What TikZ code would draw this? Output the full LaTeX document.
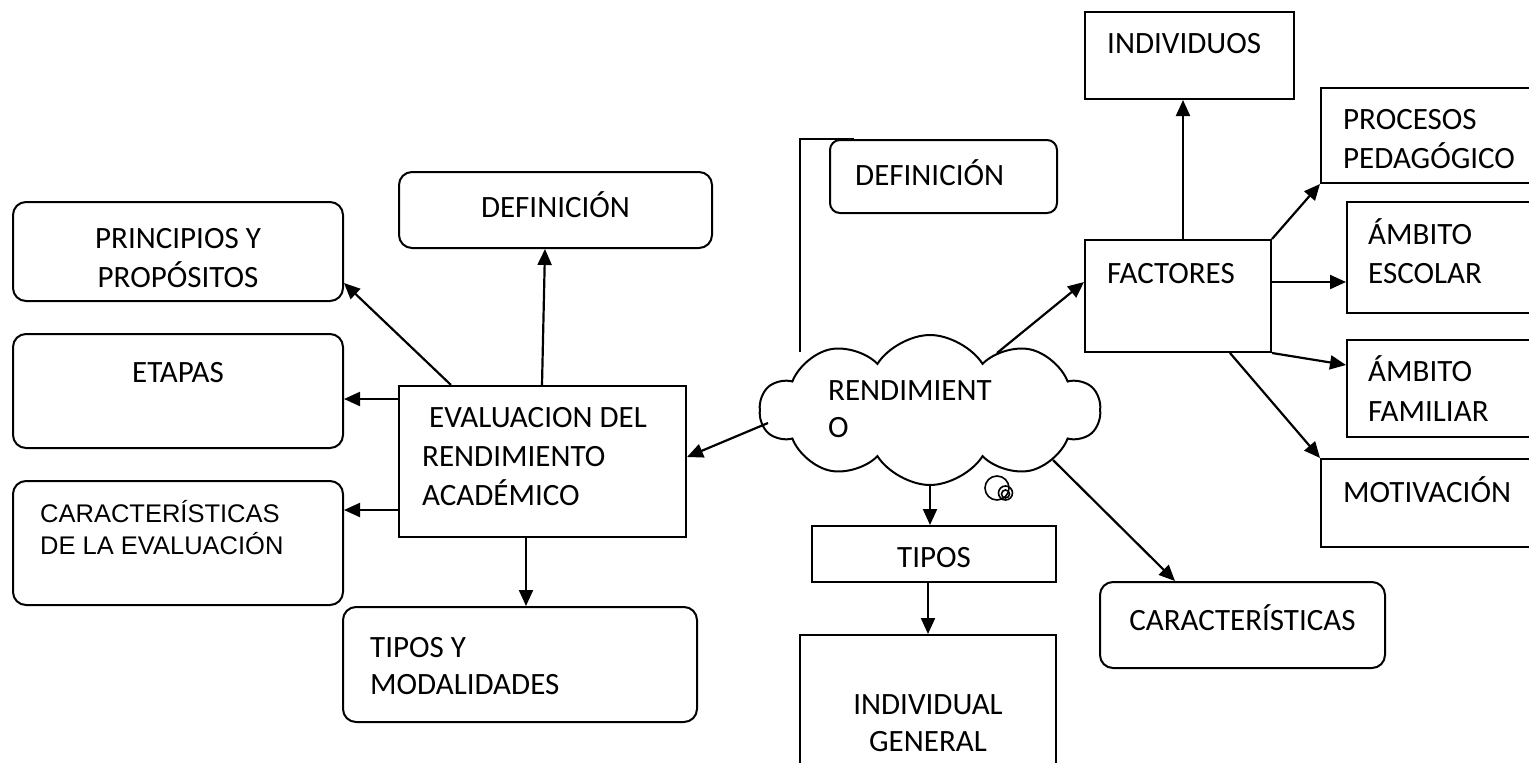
\documentclass[tikz,border=0pt]{standalone}
\usepackage{fontspec}
\setmainfont{Carlito}
\newfontfamily\arialletra{Liberation Sans}
\usetikzlibrary{arrows.meta,shapes.symbols}
\tikzset{>={Triangle[length=16pt,width=14pt]},
	flecha/.style={->, line width=2.2pt}}
\tikzstyle{caja}=[draw, line width=2pt, rectangle, inner sep=0pt]
\tikzstyle{cajaredonda}=[caja, rounded corners=13pt]
\tikzstyle{texto}=[inner sep=0pt, font=\fontsize{31}{38.5}\selectfont]

\begin{document}
\begin{tikzpicture}[x=1pt, y=-1pt]
	\clip (0,0) rectangle (1529,763);
	% lado izquierdo
	\node[cajaredonda, minimum width=330pt, minimum height=99pt] (princ) at (178,251.5) {};
	\node[cajaredonda, minimum width=330pt, minimum height=114pt] (etapas) at (178,391) {};
	\node[cajaredonda, minimum width=330pt, minimum height=124pt] (caract1) at (178,543) {};
	\node[cajaredonda, minimum width=313pt, minimum height=76pt] (def1) at (555.5,210) {};
	\node[caja, minimum width=287pt, minimum height=151pt] (eval) at (542.5,461.5) {};
	\node[cajaredonda, minimum width=354pt, minimum height=115pt] (tiposmod) at (520,664.5) {};
	\node[texto, anchor=base, align=center] (t-princ) at (178,287) {PRINCIPIOS Y\\PROPÓSITOS};
	\node[texto, anchor=base] (t-etapas) at (178,382) {ETAPAS};
	\node[texto, anchor=base west, align=left, font=\arialletra\fontsize{25.5}{32}\selectfont] (t-caract1) at (40,554) {CARACTERÍSTICAS\\DE LA EVALUACIÓN};
	\node[texto, anchor=base] (t-def1) at (555.5,217) {DEFINICIÓN};
	\node[texto, anchor=base west, align=left, font=\fontsize{31}{39}\selectfont] (t-eval) at (422,505) {~EVALUACION DEL\\RENDIMIENTO\\ACADÉMICO};
	\node[texto, anchor=base west, align=left, font=\fontsize{31}{37}\selectfont] (t-tiposmod) at (370,694) {TIPOS Y\\MODALIDADES};
	% centro
	\node[cloud, draw, fill=white, line width=2pt, cloud puffs=10, cloud puff arc=115, aspect=2.3,
		minimum width=340pt, minimum height=150pt, inner sep=0pt] (rend) at (930,410) {};
	\node[texto, anchor=base west, align=left, font=\fontsize{31}{37}\selectfont] (t-rend) at (828,437) {RENDIMIENT\\O};
	\node[cajaredonda, rounded corners=10pt, minimum width=227pt, minimum height=73pt] (def2) at (943.5,176.5) {};
	\node[texto, anchor=base west] (t-def2) at (855,185) {DEFINICIÓN};
	\draw[line width=2pt] ([xshift=25pt]def2.north west) -| ([xshift=-130pt,yshift=58pt]rend.center);
	\node[circle, draw, line width=1.6pt, minimum size=24pt, inner sep=0pt] (burbuja1) at (997,488) {};
	\node[circle, draw, line width=1.6pt, minimum size=14pt, inner sep=0pt] (burbuja2) at (1005.5,493) {};
	\node[circle, draw, line width=1.6pt, minimum size=8pt, inner sep=0pt] (burbuja3) at (1005.5,494) {};
	\node[caja, minimum width=244pt, minimum height=56pt] (tipos) at (934,554) {};
	\node[texto, anchor=base] (t-tipos) at (934,567) {TIPOS};
	\node[caja, minimum width=256pt, minimum height=165pt] (indivgen) at (928,717.5) {};
	\node[texto, anchor=base, align=center, font=\fontsize{31}{37}\selectfont] (t-indivgen) at (928,751) {INDIVIDUAL\\GENERAL};
	\node[cajaredonda, minimum width=285pt, minimum height=86pt] (caract2) at (1242.5,625) {};
	\node[texto, anchor=base] (t-caract2) at (1242.5,630) {CARACTERÍSTICAS};
	% lado derecho
	\node[caja, minimum width=186pt, minimum height=112pt] (factores) at (1178,296) {};
	\node[texto, anchor=base west] (t-factores) at (1107,283) {FACTORES};
	\node[caja, minimum width=209pt, minimum height=87pt] (individuos) at (1189.5,55.5) {};
	\node[texto, anchor=base west] (t-individuos) at (1107,53) {INDIVIDUOS};
	\node[caja, minimum width=239pt, minimum height=95pt] (procesos) at (1440.5,135.5) {};
	\node[texto, anchor=base west, align=left] (t-procesos) at (1343,168) {PROCESOS\\PEDAGÓGICO};
	\node[caja, minimum width=213pt, minimum height=111pt] (escolar) at (1453.5,257.5) {};
	\node[texto, anchor=base west, align=left] (t-escolar) at (1368,283) {ÁMBITO\\ESCOLAR};
	\node[caja, minimum width=213pt, minimum height=97pt] (familiar) at (1453.5,388.5) {};
	\node[texto, anchor=base west, align=left, font=\fontsize{31}{39.5}\selectfont] (t-familiar) at (1368,421) {ÁMBITO\\FAMILIAR};
	\node[caja, minimum width=239pt, minimum height=88pt] (motivacion) at (1440.5,503) {};
	\node[texto, anchor=base west] (t-motivacion) at (1343,502) {MOTIVACIÓN};
	% flechas
	\draw[flecha] ([xshift=53pt]eval.north west) -- ([yshift=-31.5pt]princ.east);
	\draw[flecha] ([xshift=144pt]eval.north west) -- ([xshift=-10.5pt]def1.south);
	\draw[flecha] ([yshift=-14pt]eval.north west) coordinate (a1) -- (a1 -| etapas.east);
	\draw[flecha] ([yshift=-125pt]eval.north west) coordinate (a2) -- (a2 -| caract1.east);
	\draw[flecha] ([xshift=128pt]eval.south west) coordinate (a3) -- (a3 |- tiposmod.north);
	\draw[flecha] ([xshift=-162pt,yshift=-13pt]rend.center) -- ([yshift=4.5pt]eval.east);
	\draw[flecha] ([xshift=67pt,yshift=57pt]rend.center) -- ([yshift=14pt]factores.west);
	\draw[flecha] ([yshift=-75pt]rend.center) -- ([xshift=-4pt]tipos.north);
	\draw[flecha] ([xshift=-6pt]tipos.south) -- (indivgen.north);
	\draw[flecha] ([xshift=123pt,yshift=-50pt]rend.center) -- ([xshift=-67.5pt]caract2.north);
	\draw[flecha] ([xshift=5pt]factores.north) -- ([xshift=-6.5pt]individuos.south);
	\draw[flecha] (factores.north east) -- (procesos.south west);
	\draw[flecha] ([yshift=14pt]factores.east) -- ([yshift=-24.5pt]escolar.west);
	\draw[flecha] (factores.south east) -- ([yshift=23.5pt]familiar.west);
	\draw[flecha] ([xshift=52pt]factores.south) -- (motivacion.north west);
\end{tikzpicture}
\end{document}
